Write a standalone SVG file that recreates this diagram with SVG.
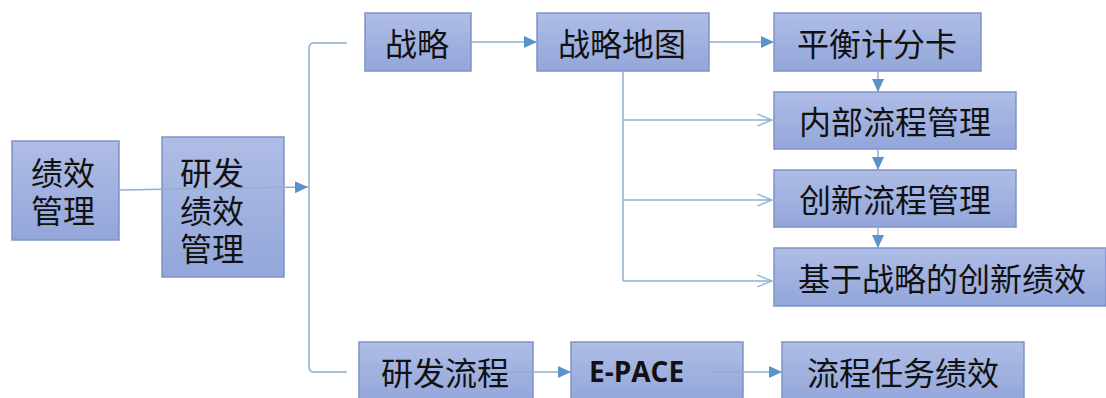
<svg xmlns="http://www.w3.org/2000/svg" width="1106" height="398" viewBox="0 0 1106 398">
<defs>
<linearGradient id="g" x1="0" y1="0" x2="0" y2="1">
<stop offset="0" stop-color="#afbde6"/>
<stop offset="1" stop-color="#93a6da"/>
</linearGradient>
<marker id="tri" markerWidth="14" markerHeight="12" refX="13" refY="6" orient="auto" markerUnits="userSpaceOnUse">
<path d="M0,0 L13,6 L0,12 Z" fill="#5b93c8"/>
</marker>
<marker id="vee" markerWidth="18" markerHeight="16" refX="16" refY="7" orient="auto" markerUnits="userSpaceOnUse">
<path d="M1,1 L16,7 L1,13" fill="none" stroke="#8fb0cf" stroke-width="1.3"/>
</marker>
<style>
.box{fill:url(#g);stroke:#7f92c6;stroke-width:1.5}
.t{font-family:"Noto Sans CJK SC","Noto Sans",sans-serif;font-size:32px;fill:#111;text-anchor:middle;dominant-baseline:central}
.tl{font-family:"Noto Sans CJK SC","Noto Sans",sans-serif;font-size:32px;fill:#111;dominant-baseline:central}
.e{font-family:"Open Sans","Liberation Sans",sans-serif;font-weight:bold;font-size:28px;fill:#111;dominant-baseline:central}
.ln{fill:none;stroke:#8fb0cf;stroke-width:1.5}
</style>
</defs>
<rect width="1106" height="398" fill="#ffffff"/>

<g id="n-jxgl"><rect class="box" x="12" y="141" width="107" height="99"/><text class="t" x="63" y="171">绩效<tspan x="63" dy="38">管理</tspan></text></g>
<g id="n-yfjxgl"><rect class="box" x="162" y="137" width="122" height="140"/><text class="tl" x="180" y="171">研发<tspan x="180" dy="38">绩效</tspan><tspan x="180" dy="38">管理</tspan></text></g>
<g id="n-zl"><rect class="box" x="365" y="13" width="106" height="58"/><text class="t" x="417" y="42">战略</text></g>
<g id="n-zldt"><rect class="box" x="537" y="13" width="172" height="58"/><text class="t" x="622" y="42">战略地图</text></g>
<g id="n-phjfk"><rect class="box" x="774" y="13" width="207" height="58"/><text class="t" x="877" y="42">平衡计分卡</text></g>
<g id="n-nblc"><rect class="box" x="774" y="92" width="242" height="57"/><text class="t" x="895" y="120">内部流程管理</text></g>
<g id="n-cxlc"><rect class="box" x="774" y="170" width="242" height="57"/><text class="t" x="895" y="198">创新流程管理</text></g>
<g id="n-jyzl"><rect class="box" x="774" y="248" width="332" height="58"/><text class="t" x="942" y="277">基于战略的创新绩效</text></g>
<g id="n-yflc"><rect class="box" x="359" y="342" width="174" height="60"/><text class="t" x="445" y="371">研发流程</text></g>
<g id="n-epace"><rect class="box" x="571" y="342" width="172" height="60"/><text class="e" x="589" y="371">E-PACE</text></g>
<g id="n-lcrw"><rect class="box" x="782" y="342" width="242" height="60"/><text class="t" x="903" y="371">流程任务绩效</text></g>

<g id="connectors">
<path class="ln" d="M119,190 L308,187" marker-end="url(#tri)"/>
<path class="ln" d="M347,43 L314,43 Q309,43 309,48 L309,367 Q309,372 314,372 L347,372"/>
<path class="ln" d="M471,42 L537,42" marker-end="url(#tri)"/>
<path class="ln" d="M709,42 L774,42" marker-end="url(#tri)"/>
<path class="ln" d="M623,71 L623,281"/>
<path class="ln" d="M623,120 L772,120" marker-end="url(#vee)"/>
<path class="ln" d="M623,200 L772,200" marker-end="url(#vee)"/>
<path class="ln" d="M623,281 L772,281" marker-end="url(#vee)"/>
<path class="ln" d="M878,71 L878,92" marker-end="url(#tri)"/>
<path class="ln" d="M878,149 L878,170" marker-end="url(#tri)"/>
<path class="ln" d="M878,227 L878,248" marker-end="url(#tri)"/>
<path class="ln" d="M503,372 L571,372" marker-end="url(#tri)"/>
<path class="ln" d="M710,372 L782,372" marker-end="url(#tri)"/>
</g>
</svg>
